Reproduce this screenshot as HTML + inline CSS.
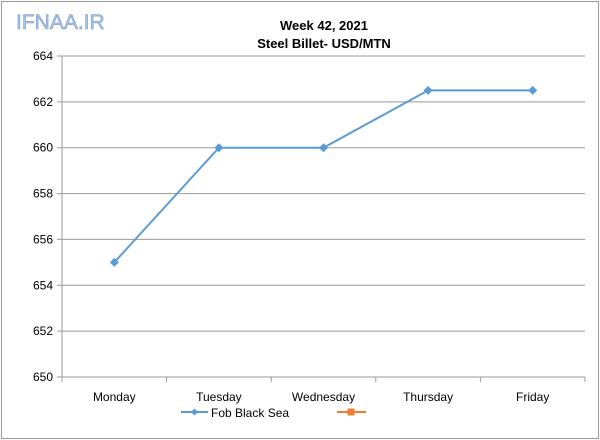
<!DOCTYPE html>
<html><head><meta charset="utf-8"><style>
body{margin:0;background:#fff;font-family:"Liberation Sans",Arial,sans-serif}
svg{display:block}
</style></head><body>
<svg width="600" height="440" viewBox="0 0 600 440">
<rect x="1.5" y="1.5" width="597" height="437" fill="#fff" stroke="#999"/>
<text x="16" y="29" font-size="21" fill="#aac4e6" stroke="#7e9dcc" stroke-width="0.6">IFNAA.IR</text>
<text x="324" y="30" font-size="13" font-weight="bold" text-anchor="middle">Week 42, 2021</text>
<text x="324" y="48" font-size="13" font-weight="bold" text-anchor="middle">Steel Billet- USD/MTN</text>
<g id="grid"></g><g id="axes"></g><g id="series"></g>
<g>
<line x1="181" y1="412" x2="208" y2="412" stroke="#5b9bd5" stroke-width="2"/>
<path d="M194.5 408.5 L198 412 L194.5 415.5 L191 412Z" fill="#5b9bd5"/>
<text x="211" y="417" font-size="12">Fob Black Sea</text>
<line x1="337" y1="412" x2="366" y2="412" stroke="#ed7d31" stroke-width="2"/>
<rect x="347.5" y="408.5" width="7" height="7" fill="#ed7d31"/>
</g>
</svg>
<script>
const categories=["Monday","Tuesday","Wednesday","Thursday","Friday"];
const values=[655,660,660,662.5,662.5];
const yTicks=[650,652,654,656,658,660,662,664];
const L=62,R=585,T=56,B=377,yMin=650,yMax=664;
const ns="http://www.w3.org/2000/svg";
const bw=(R-L)/categories.length;
const xs=i=>L+bw*(i+0.5);
const ys=v=>B-(v-yMin)/(yMax-yMin)*(B-T);
function mk(t,a,p){const e=document.createElementNS(ns,t);for(const k in a)e.setAttribute(k,a[k]);p.appendChild(e);return e;}
const g=document.getElementById('grid'),ax=document.getElementById('axes'),s=document.getElementById('series');
yTicks.forEach(v=>{
 const y=ys(v);
 const ln=mk('line',{x1:L-5,x2:R,y1:y,y2:y,stroke:'#999','stroke-width':1},g);
 
 
 const t=mk('text',{x:L-9,y:y+4,'font-size':12,'text-anchor':'end'},ax);
 t.textContent=v;
 
 
});
mk('line',{x1:L,x2:L,y1:T,y2:B,stroke:'#999'},ax);
for(let i=0;i<=categories.length;i++){const x=L+bw*i;mk('line',{x1:x,x2:x,y1:B,y2:B+5,stroke:'#999'},ax);}
categories.forEach((c,i)=>{
 const t=mk('text',{x:xs(i),y:401,'font-size':12,'text-anchor':'middle'},ax);
 t.textContent=c;
 
 
});
const pl=mk('polyline',{points:values.map((v,i)=>xs(i)+','+ys(v)).join(' '),fill:'none',stroke:'#5b9bd5','stroke-width':2},s);


values.forEach((v,i)=>{
 const x=xs(i),y=ys(v);
 const m=mk('path',{d:`M${x} ${y-4.5}L${x+4.5} ${y}L${x} ${y+4.5}L${x-4.5} ${y}Z`,fill:'#5b9bd5'},s);
 
 
});
</script>
</body></html>
